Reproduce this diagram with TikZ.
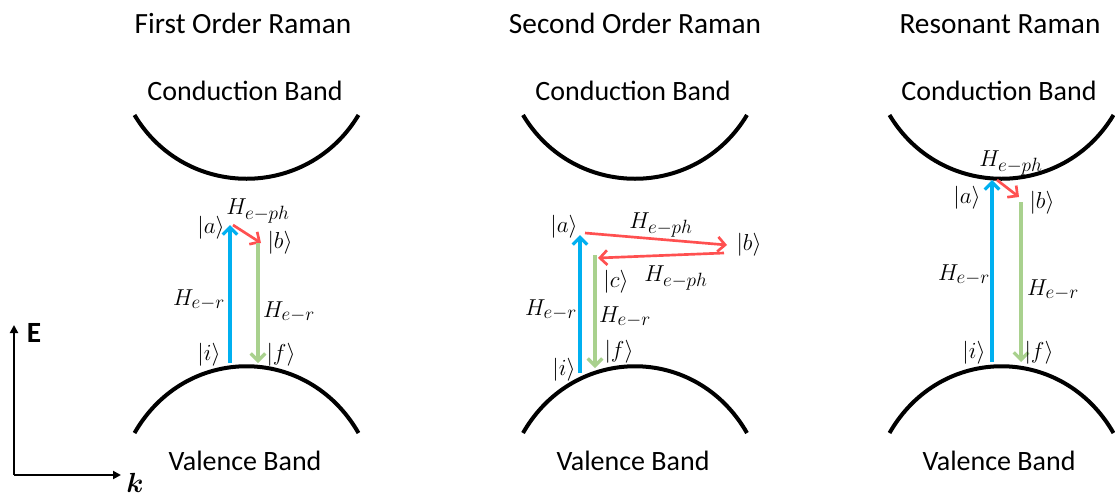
\documentclass[tikz,border=0pt]{standalone}
\usepackage{amsmath}
\usepackage{fontspec}
\setmainfont{Carlito}
\usetikzlibrary{arrows.meta}
\definecolor{eblue}{HTML}{00B0F0}
\definecolor{egreen}{HTML}{A9D18E}
\definecolor{ered}{HTML}{FF5050}
\tikzset{
  title/.style={font=\fontsize{22}{26}\selectfont, anchor=base, inner sep=0pt},
  band/.style={font=\fontsize{21}{25}\selectfont, anchor=base, inner sep=0pt},
  lbl/.style={font=\fontsize{19}{23}\selectfont, inner sep=0pt},
  bandline/.style={line width=3pt, black},
  absorb/.style={line width=2.4pt, eblue, -{Straight Barb[length=5.5pt,width=11pt]}},
  emit/.style={line width=2.4pt, egreen, -{Straight Barb[length=5.5pt,width=11pt]}},
  phonon/.style={line width=2pt, ered, -{Straight Barb[length=5.5pt,width=11pt]}},
  axis/.style={line width=1.5pt, black, -{Triangle[length=6pt,width=6pt]}}
}
\newcommand{\condband}[1]{\draw[bandline] (#1-112,115) .. controls +(51,85) and +(-51,85) .. (#1+112,115);}
\newcommand{\valband}[1]{\draw[bandline] (#1-112,433) .. controls +(51,-89) and +(-51,-89) .. (#1+112,433);}
\begin{document}
\begin{tikzpicture}[x=0.75pt,y=-0.75pt]
\useasboundingbox (0,0) rectangle (1115,497);

% titles
\node[title] (t1) at (243,33) {First Order Raman};
\node[title] (t2) at (635,33) {Second Order Raman};
\node[title] (t3) at (1000,33) {Resonant Raman};

% band labels
\node[band] (cb1) at (245,100) {Conduction Band};
\node[band] (cb2) at (633,100) {Conduction Band};
\node[band] (cb3) at (999,100) {Conduction Band};
\node[band] (vb1) at (245,470) {Valence Band};
\node[band] (vb2) at (633,470) {Valence Band};
\node[band] (vb3) at (999,470) {Valence Band};

% bands
\condband{246.5}
\valband{246.5}
\condband{635}
\valband{635}
\condband{1001.5}
\valband{1001.5}

% axes
\coordinate (origin) at (14,475);
\coordinate (Etip) at (14,325);
\coordinate (ktip) at (121,475);
\draw[axis] (origin) -- (Etip);
\draw[axis] (origin) -- (ktip);
\node[font=\fontsize{22}{26}\selectfont\bfseries, inner sep=0pt] (E) at (34,333) {E};
\node[font=\fontsize{22}{26}\selectfont, inner sep=0pt] (k) at (135,483) {$\boldsymbol{k}$};

% ---------- Panel 1 ----------
\coordinate (i1) at (230,363);
\coordinate (a1) at (230,225);
\coordinate (a1p) at (233,225);
\coordinate (b1) at (261,243);
\coordinate (b1s) at (258,243);
\coordinate (f1) at (258,363);
\draw[absorb] (i1) -- (a1);
\draw[phonon] (a1p) -- (b1);
\draw[emit] (b1s) -- (f1);
\node[lbl] (la1) at (211,228) {$|a\rangle$};
\node[lbl] (lh1) at (258,211) {$H_{e-ph}$};
\node[lbl] (lb1) at (280,243) {$|b\rangle$};
\node[lbl] (lr1) at (199,300) {$H_{e-r}$};
\node[lbl] (lr1b) at (289,312) {$H_{e-r}$};
\node[lbl] (li1) at (209,355) {$|i\rangle$};
\node[lbl] (lf1) at (281,355) {$|f\rangle$};

% ---------- Panel 2 ----------
\coordinate (i2) at (580,373);
\coordinate (a2) at (580,235);
\coordinate (a2p) at (585,233);
\coordinate (b2) at (727,245);
\coordinate (b2p) at (724,253);
\coordinate (c2) at (598,258);
\coordinate (c2s) at (595,255);
\coordinate (f2) at (595,368);
\draw[absorb] (i2) -- (a2);
\draw[phonon] (a2p) -- (b2);
\draw[phonon] (b2p) -- (c2);
\draw[emit] (c2s) -- (f2);
\node[lbl] (la2) at (564,227) {$|a\rangle$};
\node[lbl] (lh2) at (661,225) {$H_{e-ph}$};
\node[lbl] (lb2) at (749,245) {$|b\rangle$};
\node[lbl] (lh2b) at (676,278) {$H_{e-ph}$};
\node[lbl] (lc2) at (616,282) {$|c\rangle$};
\node[lbl] (lr2) at (551,310) {$H_{e-r}$};
\node[lbl] (lr2b) at (625,317) {$H_{e-r}$};
\node[lbl] (lf2) at (619,352) {$|f\rangle$};
\node[lbl] (li2) at (564,370) {$|i\rangle$};

% ---------- Panel 3 ----------
\coordinate (i3) at (992,362);
\coordinate (a3) at (992,180);
\coordinate (a3p) at (997,180);
\coordinate (b3) at (1019,197);
\coordinate (b3s) at (1021,202);
\coordinate (f3) at (1021,362);
\draw[absorb] (i3) -- (a3);
\draw[phonon] (a3p) -- (b3);
\draw[emit] (b3s) -- (f3);
\node[lbl] (lh3) at (1011,163) {$H_{e-ph}$};
\node[lbl] (la3) at (967,198) {$|a\rangle$};
\node[lbl] (lb3) at (1042,203) {$|b\rangle$};
\node[lbl] (lr3) at (964,275) {$H_{e-r}$};
\node[lbl] (lr3b) at (1053,290) {$H_{e-r}$};
\node[lbl] (li3) at (974,353) {$|i\rangle$};
\node[lbl] (lf3) at (1039,353) {$|f\rangle$};
\end{tikzpicture}
\end{document}
